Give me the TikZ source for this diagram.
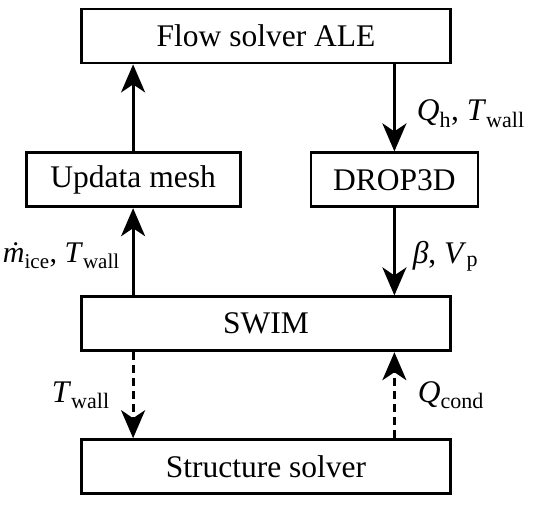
\documentclass[tikz,border=0pt]{standalone}
\usepackage{fontspec}
\setmainfont{Liberation Serif}
\usetikzlibrary{arrows.meta,positioning}
\tikzset{
  solver/.style={draw=black,line width=2.8pt,minimum height=54pt,inner sep=0pt,
    font=\fontsize{31.5}{36}\selectfont},
  arrow/.style={-{Stealth[length=28pt,width=24pt,inset=8pt]},line width=2.8pt},
  dashedarrow/.style={arrow,dash pattern=on 8pt off 5pt},
  tag/.style={font=\fontsize{31.5}{36}\selectfont,inner sep=0pt}
}

\begin{document}
\begin{tikzpicture}[node distance=87pt]
  \useasboundingbox (0,0) rectangle (544pt,-504pt);
  \node[solver,minimum width=369pt] (flow) at (266pt,-36pt) {Flow solver ALE};
  \coordinate (leftx) at ([xshift=53pt]flow.south west);
  \coordinate (rightx) at ([xshift=-57.5pt]flow.south east);
  \node[solver,minimum width=214pt,below=of leftx] (mesh) {Updata mesh};
  \node[solver,minimum width=167pt,below=of rightx] (drop) {DROP3D};
  \node[solver,minimum width=369pt,below=231pt of flow] (swim) {SWIM};
  \node[solver,minimum width=369pt,below=86pt of swim] (struct) {Structure solver};
  % solid couplings
  \draw[arrow] (mesh.north) -- (mesh.north |- flow.south);
  \draw[arrow] (flow.south -| drop.north) -- node[tag,right=21pt,pos=0.57]
    {\textit{Q}\textsubscript{h}, \textit{T}\textsubscript{wall}} (drop.north);
  \draw[arrow] (swim.north -| mesh.south) -- node[tag,left=12pt,pos=0.45,
    font=\fontsize{30}{36}\selectfont]
    {\textit{\.m}\textsubscript{ice}, \textit{T}\textsubscript{wall}} (mesh.south);
  \draw[arrow] (drop.south) -- node[tag,right=17pt,pos=0.55]
    {\textit{β}, \textit{V}\textsubscript{p}} (drop.south |- swim.north);
  % structure coupling
  \draw[dashedarrow] (swim.south -| mesh.south) -- node[tag,left=22pt]
    {\textit{T}\textsubscript{wall}} (struct.north -| mesh.south);
  \draw[dashedarrow] (struct.north -| drop.south) -- node[tag,right=22pt]
    {\textit{Q}\textsubscript{cond}} (swim.south -| drop.south);
\end{tikzpicture}
\end{document}
